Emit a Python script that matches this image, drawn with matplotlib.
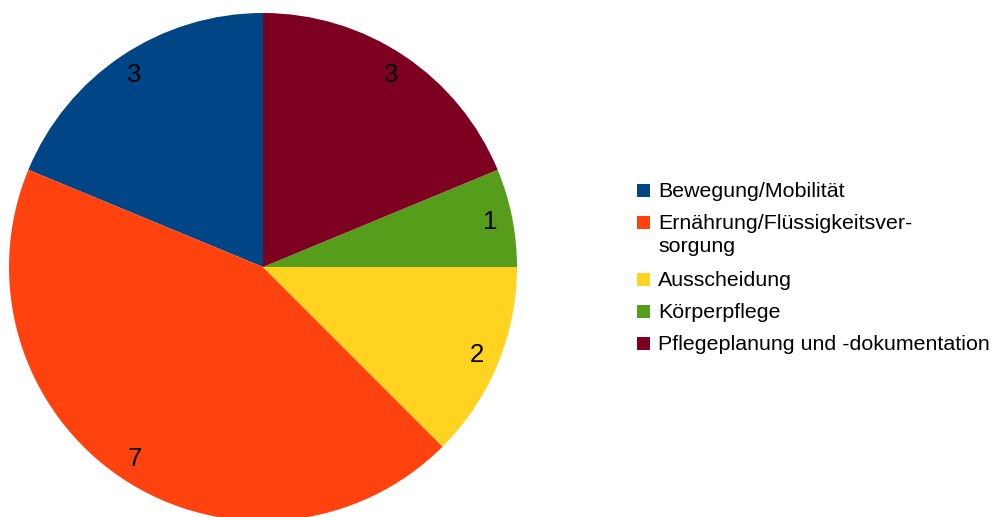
import matplotlib
matplotlib.use("Agg")
import matplotlib.pyplot as plt
from matplotlib.patches import Rectangle

categories = ["Bewegung/Mobilität", "Ernährung/Flüssigkeitsver-\nsorgung", "Ausscheidung",
              "Körperpflege", "Pflegeplanung und -dokumentation"]
values = [3, 7, 2, 1, 3]
colors = ["#004586", "#ff420e", "#ffd320", "#579d1c", "#7e0021"]

plt.rcParams['font.family'] = ['Liberation Sans', 'DejaVu Sans']

W, H = 994, 517
fig = plt.figure(figsize=(W / 100, H / 100), dpi=100)
cx, cy, r = 263, 267, 254
ax = fig.add_axes([(cx - r) / W, (H - cy - r) / H, 2 * r / W, 2 * r / H])
total = sum(values)
ax.pie(values, colors=colors, startangle=90, counterclock=True,
       autopct=lambda p: f"{round(p * total / 100):d}", pctdistance=0.91,
       wedgeprops=dict(linewidth=0),
       textprops=dict(fontsize=18.5, color="black"))
ax.set_xlim(-1, 1)
ax.set_ylim(-1, 1)
ax.set_aspect('equal')
ax.axis('off')

# legend drawn manually
y = 190
for cat, col in zip(categories, colors):
    fig.patches.append(Rectangle((637 / W, (H - y - 7) / H), 13 / W, 13 / H,
                                 transform=fig.transFigure, facecolor=col, edgecolor='none'))
    fig.text(658 / W, (H - y + 8) / H, cat, fontsize=15.4, va='top', ha='left',
             linespacing=1.3, transform=fig.transFigure)
    nlines = cat.count("\n")
    y += 32 + 25 * nlines

fig.savefig("out.png", dpi=100)
